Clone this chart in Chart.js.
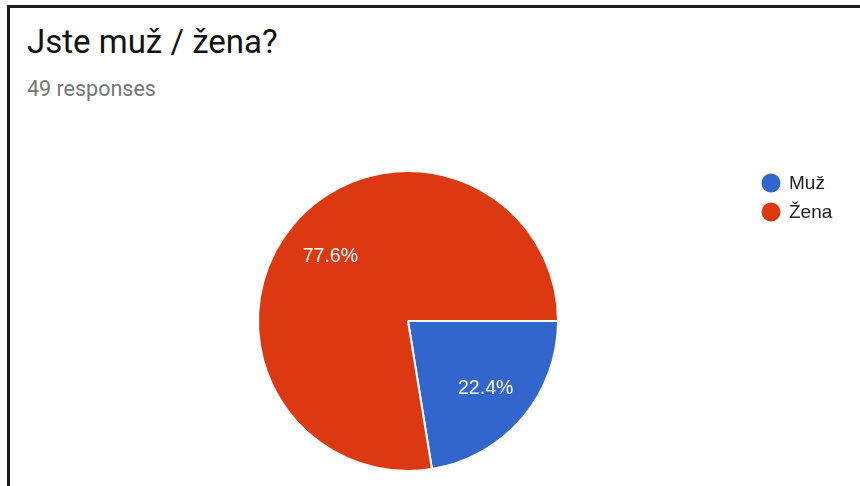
<!DOCTYPE html>
<html>
<head>
<meta charset="utf-8">
<script src="https://cdn.jsdelivr.net/npm/chart.js@4"></script>
<style>
html,body{margin:0;padding:0;background:#fff;width:860px;height:486px;overflow:hidden;}
#frame{position:absolute;left:7px;top:5px;width:900px;height:600px;border-top:3px solid #1a1a1a;border-left:3px solid #1a1a1a;}
#title{position:absolute;left:27px;top:22px;font-family:Roboto,Arial,sans-serif;font-size:33px;color:#111;white-space:nowrap;}
#sub{position:absolute;left:27px;top:76px;font-family:Roboto,Arial,sans-serif;font-size:21.5px;color:#777;white-space:nowrap;}
#wrap{position:absolute;left:0;top:0;width:860px;height:486px;}
</style>
</head>
<body>
<div id="frame"></div>
<div id="title">Jste muž / žena?</div>
<div id="sub">49 responses</div>
<div id="wrap"><canvas id="c" width="860" height="486"></canvas></div>
<script>
const categories = ["Muž", "Žena"];
const counts = [11, 38];
const colors = ["#3366cc", "#dc3912"];

const total = counts.reduce((a, b) => a + b, 0);

const labelPlugin = {
  id: 'sliceLabels',
  afterDatasetsDraw(chart) {
    const ctx = chart.ctx;
    const meta = chart.getDatasetMeta(0);
    ctx.save();
    ctx.fillStyle = '#ffffff';
    ctx.font = '19.5px Arial, "Liberation Sans", sans-serif';
    ctx.textAlign = 'center';
    ctx.textBaseline = 'middle';
    meta.data.forEach((arc, i) => {
      const p = arc.getProps(['x', 'y', 'startAngle', 'endAngle', 'outerRadius'], true);
      const mid = (p.startAngle + p.endAngle) / 2;
      const r = p.outerRadius * 0.68;
      const pct = (counts[i] / total * 100).toFixed(1) + '%';
      ctx.fillText(pct, p.x + Math.cos(mid) * r, p.y + Math.sin(mid) * r + 1.5);
    });
    ctx.restore();
  }
};

const legendPlugin = {
  id: 'sideLegend',
  afterDraw(chart) {
    const ctx = chart.ctx;
    ctx.save();
    ctx.font = '19px Arial, "Liberation Sans", sans-serif';
    ctx.textBaseline = 'middle';
    categories.forEach((name, i) => {
      const y = 183 + i * 29;
      ctx.beginPath();
      ctx.fillStyle = colors[i];
      ctx.arc(771, y, 9.5, 0, Math.PI * 2);
      ctx.fill();
      ctx.fillStyle = '#222';
      ctx.fillText(name, 789, y + 1);
    });
    ctx.restore();
  }
};

new Chart(document.getElementById('c'), {
  type: 'pie',
  data: {
    labels: categories,
    datasets: [{
      data: counts,
      backgroundColor: colors,
      borderColor: '#ffffff',
      borderWidth: 2,
      hoverOffset: 0
    }]
  },
  options: {
    responsive: false,
    animation: false,
    rotation: 90,
    layout: { padding: { left: 257, right: 301, top: 170, bottom: 14 } },
    plugins: {
      legend: { display: false },
      tooltip: { enabled: false }
    }
  },
  plugins: [labelPlugin, legendPlugin]
});
</script>
</body>
</html>
